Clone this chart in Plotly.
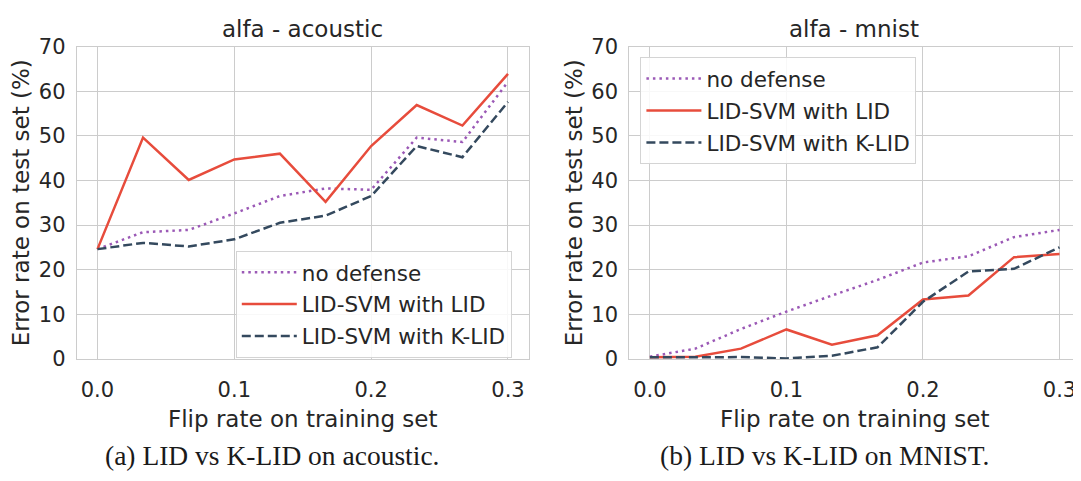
import plotly.graph_objects as go

# ---- data ----
flip_rate = [0.0, 0.0333, 0.0667, 0.1, 0.1333, 0.1667, 0.2, 0.2333, 0.2667, 0.3]

acoustic_no_defense = [24.6, 28.4, 28.9, 32.6, 36.5, 38.2, 37.9, 49.6, 48.6, 62.1]
acoustic_lid = [24.6, 49.6, 40.1, 44.7, 46.0, 35.2, 47.7, 56.9, 52.3, 63.9]
acoustic_klid = [24.6, 26.0, 25.2, 26.8, 30.5, 32.1, 36.5, 47.7, 45.2, 57.6]

mnist_no_defense = [0.5, 2.3, 6.7, 10.6, 14.2, 17.7, 21.6, 23.0, 27.3, 28.9]
mnist_lid = [0.35, 0.5, 2.3, 6.6, 3.2, 5.3, 13.3, 14.2, 22.8, 23.5]
mnist_klid = [0.35, 0.35, 0.4, 0.1, 0.7, 2.6, 12.8, 19.6, 20.2, 25.0]

series_names = ["no defense", "LID-SVM with LID", "LID-SVM with K-LID"]
x_tick_vals = [0.0, 0.1, 0.2, 0.3]
x_tick_text = ["0.0", "0.1", "0.2", "0.3"]
y_tick_vals = [0, 10, 20, 30, 40, 50, 60, 70]
panel_titles = ["alfa - acoustic", "alfa - mnist"]
captions = ["(a) LID vs K-LID on acoustic.", "(b) LID vs K-LID on MNIST."]
x_title = "Flip rate on training set"
y_title = "Error rate on test set (%)"

# ---- style ----
OFF = 8                      # page body margin offset
W, H = 1081 - OFF, 481 - OFF
TEXT = "#262626"
GRID = "#cccccc"
FONT = "DejaVu Sans"
colors = ["#9b59b6", "#e74c3c", "#34495e"]
dashes = ["2.5px,4px", "solid", "9px,4px"]
LW = 2.5

fig = go.Figure()

panels = [
    (acoustic_no_defense, acoustic_lid, acoustic_klid),
    (mnist_no_defense, mnist_lid, mnist_klid),
]
for p, vals in enumerate(panels):
    xa = "x" if p == 0 else "x2"
    ya = "y" if p == 0 else "y2"
    leg = "legend" if p == 0 else "legend2"
    for i, (name, v) in enumerate(zip(series_names, vals)):
        fig.add_trace(go.Scatter(
            x=flip_rate, y=v, name=name, mode="lines",
            line=dict(color=colors[i], width=LW, dash=dashes[i]),
            xaxis=xa, yaxis=ya, legend=leg, legendgroup=f"{p}-{i}",
        ))

# pixel helpers (coordinates given in the reference frame)
def px_x(v):
    return min(1.0, (v - OFF) / W)

def px_y(v):
    return 1 - (v - OFF) / H

ax_top, ax_bot = 36, 365
left_dom = [px_x(77), px_x(529)]
right_dom = [px_x(630), 1.0]
ydom = [px_y(ax_bot), px_y(ax_top)]

common_x = dict(
    range=[-0.015, 0.315], tickvals=x_tick_vals, ticktext=x_tick_text,
    showgrid=True, gridcolor=GRID, gridwidth=1, zeroline=False,
    showline=True, linecolor=GRID, linewidth=1.3, mirror=True,
    ticks="", ticklabelstandoff=12,
    tickfont=dict(family=FONT, size=21, color=TEXT),
    title=dict(text=x_title, font=dict(family=FONT, size=23, color=TEXT), standoff=9),
)
common_y = dict(
    range=[0, 70], tickvals=y_tick_vals, domain=ydom,
    showgrid=True, gridcolor=GRID, gridwidth=1, zeroline=False,
    showline=True, linecolor=GRID, linewidth=1.3, mirror=True,
    ticks="", ticklabelstandoff=6,
    tickfont=dict(family=FONT, size=21, color=TEXT),
    title=dict(text=y_title, font=dict(family=FONT, size=23, color=TEXT), standoff=2),
)

legend_common = dict(
    font=dict(family=FONT, size=21.5, color=TEXT),
    bgcolor="rgba(255,255,255,0.85)", bordercolor="#d4d4d4", borderwidth=1,
    tracegroupgap=1, itemwidth=55, xanchor="left", yanchor="top",
)

fig.update_layout(
    width=W, height=H, autosize=False,
    margin=dict(l=0, r=0, t=0, b=0),
    paper_bgcolor="white", plot_bgcolor="white",
    font=dict(family=FONT, color=TEXT),
    xaxis=dict(domain=left_dom, anchor="y", **common_x),
    yaxis=dict(anchor="x", **common_y),
    xaxis2=dict(domain=right_dom, anchor="y2", **common_x),
    yaxis2=dict(anchor="x2", **common_y),
    legend=dict(x=px_x(236), y=px_y(251), **legend_common),
    legend2=dict(x=px_x(641), y=px_y(47), **legend_common),
    showlegend=True,
)

# panel titles
for cx, t in zip([303, 855], panel_titles):
    fig.add_annotation(
        text=t, x=px_x(cx), y=px_y(18), xref="paper", yref="paper",
        showarrow=False, xanchor="center", yanchor="middle",
        font=dict(family=FONT, size=23, color=TEXT),
    )

# captions
for cx, t in zip([272, 825], captions):
    fig.add_annotation(
        text=t, x=px_x(cx), y=px_y(467), xref="paper", yref="paper",
        showarrow=False, xanchor="center", yanchor="middle",
        font=dict(family="Liberation Serif", size=27.5, color="#1a1a1a"),
    )

fig.write_html("out.html")
